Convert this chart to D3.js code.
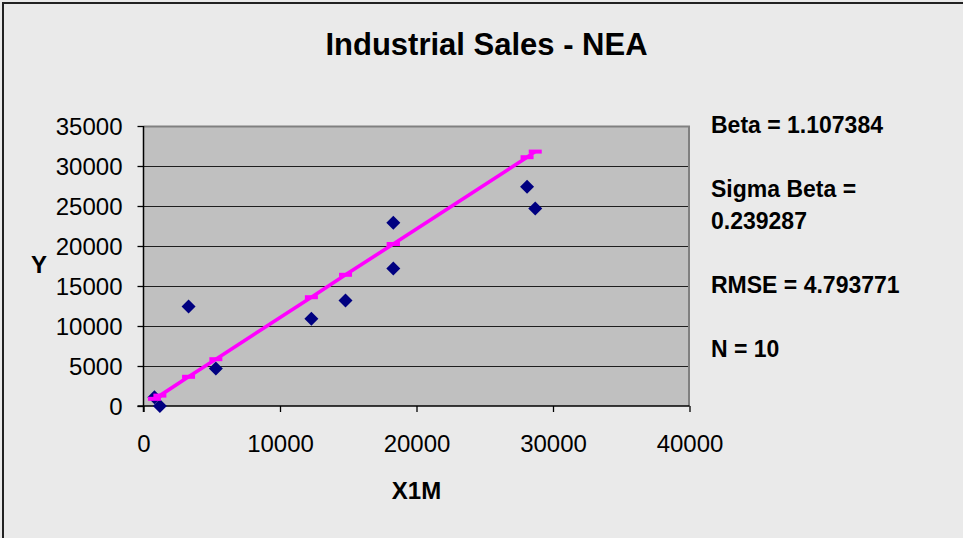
<!DOCTYPE html>
<html>
<head>
<meta charset="utf-8">
<script src="https://cdn.jsdelivr.net/npm/d3@7"></script>
<style>
  html, body { margin: 0; padding: 0; background: #eaeaea; }
  svg { display: block; }
  text { font-family: "Liberation Sans", Arial, sans-serif; }
</style>
</head>
<body>
<svg id="chart" width="963" height="538"></svg>
<script>
// ---- data ----
const xValues   = [800, 1200, 3300, 5300, 12300, 14800, 18300, 18300, 28100, 28700];
const yValues   = [1100, 0, 12450, 4700, 10900, 13200, 22900, 17200, 27400, 24700];
const fitValues = [900, 1300, 3650, 5850, 13600, 16400, 20250, 20250, 31100, 31800];
const xTicks = [0, 10000, 20000, 30000, 40000];
const yTicks = [0, 5000, 10000, 15000, 20000, 25000, 30000, 35000];
const titleText = "Industrial Sales - NEA";
const xTitle = "X1M";
const yTitle = "Y";
const statsLines = ["Beta = 1.107384", "", "Sigma Beta =", "0.239287", "", "RMSE = 4.793771", "", "N = 10"];

// ---- layout ----
const svg = d3.select("#chart");
const W = 963, H = 538;
const plot = { left: 143.5, right: 689.5, top: 126, bottom: 406 };

const x = d3.scaleLinear().domain([0, 40000]).range([plot.left, plot.right]);
const y = d3.scaleLinear().domain([0, 35000]).range([plot.bottom, plot.top]);

// background + outer frame
svg.append("rect").attr("x", 0).attr("y", 0).attr("width", W).attr("height", H).attr("fill", "#eaeaea");
svg.append("rect").attr("x", 3).attr("y", 3).attr("width", W + 10).attr("height", H + 10)
  .attr("fill", "none").attr("stroke", "#222").attr("stroke-width", 2);

// plot area
svg.append("rect")
  .attr("x", plot.left).attr("y", plot.top)
  .attr("width", plot.right - plot.left).attr("height", plot.bottom - plot.top)
  .attr("fill", "#c0c0c0");

// gridlines
svg.append("g").selectAll("line").data(yTicks.filter(d => d > 0)).join("line")
  .attr("x1", plot.left).attr("x2", plot.right)
  .attr("y1", d => Math.round(y(d)) + 0.5).attr("y2", d => Math.round(y(d)) + 0.5)
  .attr("stroke", "#1e1e1e").attr("stroke-width", 1.2);

// plot border (top/right gray)
svg.append("path")
  .attr("d", `M${plot.left},${plot.top + 0.5} H${plot.right - 0.5} V${plot.bottom}`)
  .attr("fill", "none").attr("stroke", "#808080").attr("stroke-width", 2);

// axes
const yAxis = d3.axisLeft(y).tickValues(yTicks).tickSize(6).tickPadding(15).tickFormat(d3.format("d"));
const gy = svg.append("g").attr("transform", `translate(${plot.left},0)`).call(yAxis);
const xAxis = d3.axisBottom(x).tickValues(xTicks).tickSize(6).tickPadding(28).tickFormat(d3.format("d"));
const gx = svg.append("g").attr("transform", `translate(0,${plot.bottom})`).call(xAxis);

[gy, gx].forEach(g => {
  g.select(".domain").remove();
  g.selectAll(".tick line").attr("stroke", "#000").attr("stroke-width", 1.3);
  g.selectAll(".tick text").attr("fill", "#000")
    .style("font-family", "'Liberation Sans', Arial, sans-serif").style("font-size", "24px");
});
gy.selectAll(".tick text").attr("dy", "0.36em");
gx.selectAll(".tick text").attr("dy", "0.5em");

// axis lines
svg.append("line").attr("x1", plot.left).attr("x2", plot.left)
  .attr("y1", plot.top).attr("y2", plot.bottom + 6).attr("stroke", "#000").attr("stroke-width", 1.5);
svg.append("line").attr("x1", plot.left - 6).attr("x2", plot.right)
  .attr("y1", plot.bottom).attr("y2", plot.bottom).attr("stroke", "#000").attr("stroke-width", 1.5);

// data points (diamonds)
const diamond = d3.symbol().type(d3.symbolSquare).size(98);
svg.append("g").selectAll("path").data(xValues.map((d, i) => [d, yValues[i]])).join("path")
  .attr("d", diamond)
  .attr("transform", d => `translate(${x(d[0])},${y(d[1])}) rotate(45)`)
  .attr("fill", "#000080");

// fit line
const fitData = xValues.map((d, i) => [d, fitValues[i]]);
svg.append("path")
  .datum(fitData)
  .attr("d", d3.line().x(d => x(d[0])).y(d => y(d[1])))
  .attr("fill", "none").attr("stroke", "#ff00ff").attr("stroke-width", 3.6);
svg.append("g").selectAll("rect").data(fitData).join("rect")
  .attr("x", d => x(d[0]) - 6.5).attr("y", d => y(d[1]) - 2)
  .attr("width", 13).attr("height", 4)
  .attr("fill", "#ff00ff");

// title
svg.append("text").attr("x", 486.5).attr("y", 55).attr("text-anchor", "middle")
  .style("font-size", "31px").style("font-weight", "bold").text(titleText);

// axis titles
svg.append("text").attr("x", (plot.left + plot.right) / 2).attr("y", 499).attr("text-anchor", "middle")
  .style("font-size", "24px").style("font-weight", "bold").text(xTitle);
svg.append("text").attr("x", 39).attr("y", 273).attr("text-anchor", "middle")
  .style("font-size", "24px").style("font-weight", "bold").text(yTitle);

// stats text
svg.append("g").selectAll("text").data(statsLines).join("text")
  .attr("x", 711).attr("y", (d, i) => 133 + i * 32)
  .style("font-size", "23px").style("font-weight", "bold").text(d => d);
</script>
</body>
</html>
